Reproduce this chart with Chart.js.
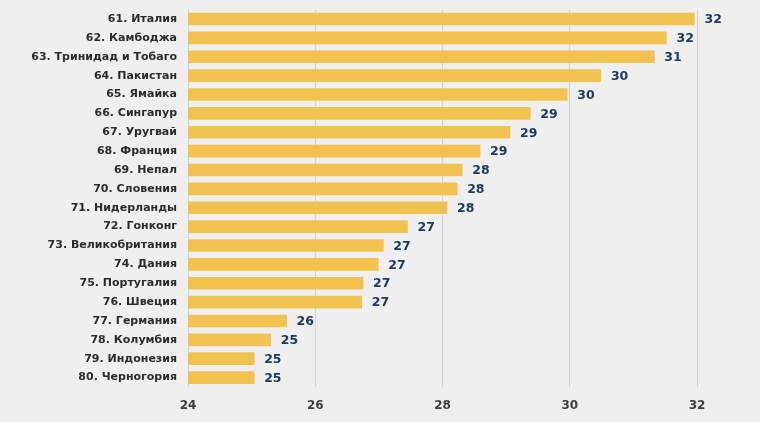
<!DOCTYPE html>
<html lang="ru">
<head>
  <meta charset="UTF-8" />
  <title>Рейтинг стран</title>
  <style>
    html, body { margin: 0; padding: 0; background: #efefef; }
    .wrap { width: 760px; height: 422px; position: relative; }
  </style>
</head>
<body>
  <div class="wrap"><canvas id="chart"></canvas></div>

  <script src="https://cdn.jsdelivr.net/npm/chart.js"></script>
  <script>
    const countries = [
      '61. Италия', '62. Камбоджа', '63. Тринидад и Тобаго', '64. Пакистан', '65. Ямайка',
      '66. Сингапур', '67. Уругвай', '68. Франция', '69. Непал', '70. Словения',
      '71. Нидерланды', '72. Гонконг', '73. Великобритания', '74. Дания', '75. Португалия',
      '76. Швеция', '77. Германия', '78. Колумбия', '79. Индонезия', '80. Черногория'
    ];
    const scores = [
      31.96, 31.52, 31.33, 30.49, 29.96,
      29.38, 29.06, 28.59, 28.31, 28.23,
      28.07, 27.45, 27.07, 26.99, 26.75,
      26.73, 25.55, 25.30, 25.04, 25.04
    ];
    const xTicks = [24, 26, 28, 30, 32];

    const FONT = '"DejaVu Sans", Verdana, sans-serif';

    // value labels to the right of each bar
    const valueLabels = {
      id: 'valueLabels',
      afterDatasetsDraw(chart) {
        const ctx = chart.ctx;
        const meta = chart.getDatasetMeta(0);
        ctx.save();
        ctx.font = 'bold 12.5px ' + FONT;
        ctx.fillStyle = '#1b3a62';
        ctx.textBaseline = 'middle';
        meta.data.forEach((bar, i) => {
          ctx.fillText(Math.round(scores[i]).toString(), bar.x + 10, bar.y + 1);
        });
        ctx.restore();
      }
    };

    new Chart(document.getElementById('chart'), {
      type: 'bar',
      data: {
        labels: countries,
        datasets: [{
          data: scores,
          backgroundColor: '#f2c250',
          barThickness: 12
        }]
      },
      options: {
        indexAxis: 'y',
        responsive: true,
        maintainAspectRatio: false,
        animation: false,
        layout: { padding: { top: 0, right: 63, bottom: 0, left: 0 } },
        plugins: { legend: { display: false }, tooltip: { enabled: false } },
        scales: {
          x: {
            min: 24,
            max: 32,
            afterBuildTicks(scale) {
              scale.ticks = xTicks.map(v => ({ value: v }));
            },
            afterFit(scale) { scale.height = 35; },
            grid: { color: '#d2d2d2', drawTicks: false, lineWidth: 1 },
            border: { display: false },
            ticks: {
              padding: 12,
              color: '#3d3d3d',
              font: { family: FONT, size: 12, weight: 'bold' }
            }
          },
          y: {
            grid: { display: false },
            border: { display: false },
            afterFit(scale) { scale.width = 188; },
            ticks: {
              padding: 3,
              color: '#2b2b2b',
              font: { family: FONT, size: 11, weight: 'bold' }
            }
          }
        }
      },
      plugins: [valueLabels]
    });
  </script>
</body>
</html>
